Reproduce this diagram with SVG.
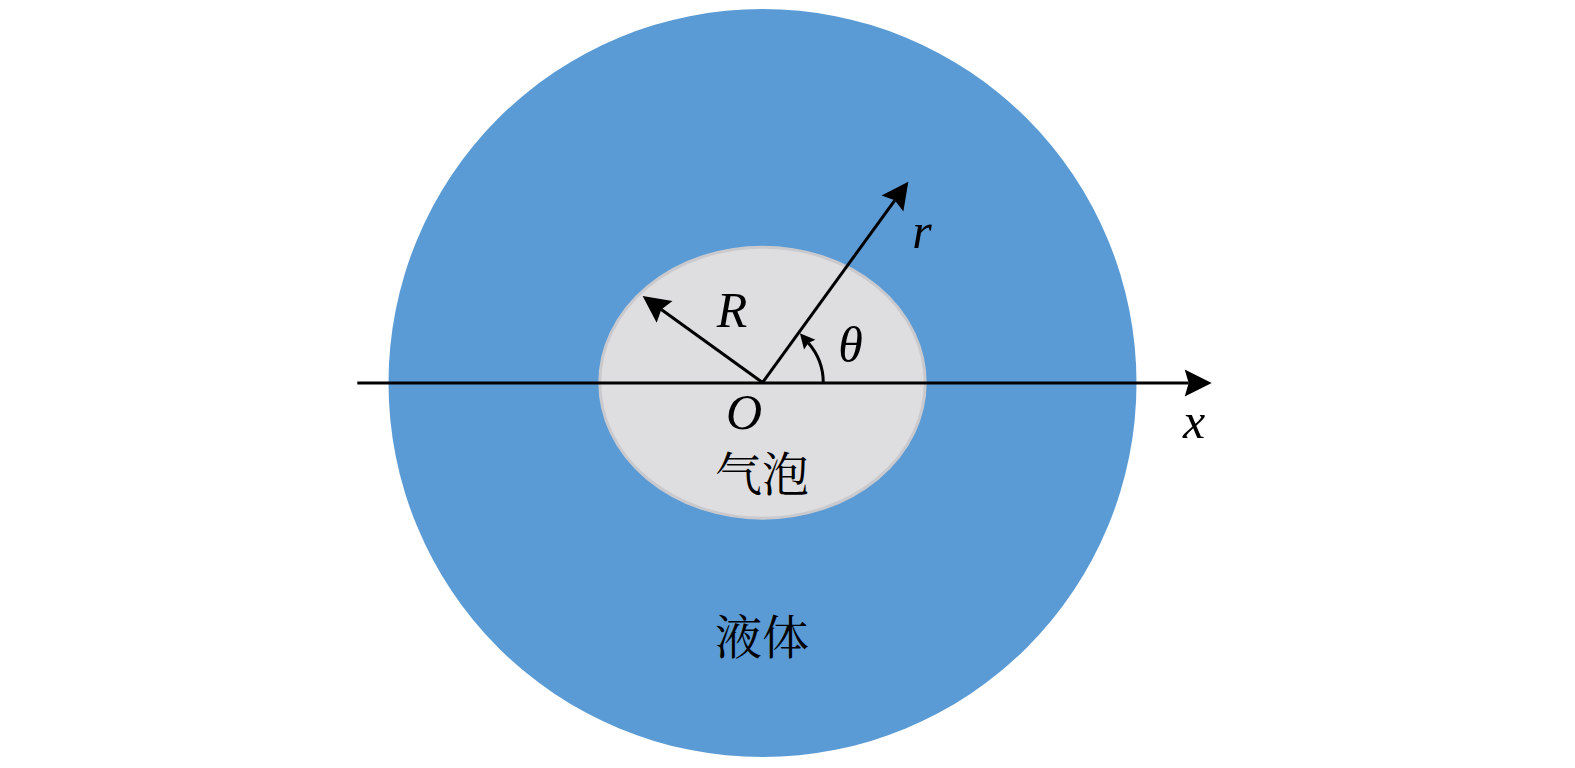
<svg xmlns="http://www.w3.org/2000/svg" width="1575" height="768" viewBox="0 0 1575 768">
<style>
.math{font-family:"Liberation Serif","DejaVu Serif",serif;font-style:italic;font-size:50px;fill:#000;text-anchor:middle}
.cjk{font-family:"Noto Serif CJK SC","Noto Sans CJK SC",serif;font-size:47px;fill:#000;text-anchor:middle}
.ax{stroke:#000;stroke-width:3;fill:none}
</style>
<defs>
<marker id="big" markerUnits="userSpaceOnUse" markerWidth="30" markerHeight="30" refX="4" refY="0" orient="auto" overflow="visible">
<path d="M27 0 L0 -13.5 L4 0 L0 13.5 Z" fill="#000"/>
</marker>
<marker id="small" markerUnits="userSpaceOnUse" markerWidth="16" markerHeight="16" refX="2" refY="0" orient="auto" overflow="visible">
<path d="M15 0 L0 -7.5 L2 0 L0 7.5 Z" fill="#000"/>
</marker>
</defs>
<rect width="1575" height="768" fill="#fff"/>
<g id="liquid">
<circle cx="762.5" cy="383" r="374" fill="#5b9bd5"/>
<text class="cjk" x="762" y="654">液体</text>
</g>
<g id="bubble">
<ellipse cx="762.5" cy="382.7" rx="162.7" ry="135.5" fill="#dedee0" stroke="#cacace" stroke-width="3"/>
<text class="cjk" x="762" y="491">气泡</text>
</g>
<g id="connectors">
<line class="ax" x1="357.3" y1="383" x2="1188.7" y2="383" marker-end="url(#big)"/>
<line class="ax" x1="762.5" y1="382.5" x2="894.8" y2="200.3" marker-end="url(#big)"/>
<line class="ax" x1="762.5" y1="382.5" x2="661.3" y2="309.5" marker-end="url(#big)"/>
<path class="ax" d="M823.3 383 A60.8 60.8 0 0 0 808.4 343.1" marker-end="url(#small)"/>
</g>
<g id="labels">
<text class="math" x="732" y="327">R</text>
<text class="math" x="850.5" y="362">θ</text>
<text class="math" x="922" y="248">r</text>
<text class="math" x="744" y="429">O</text>
<text class="math" x="1194" y="438">x</text>
</g>
</svg>
